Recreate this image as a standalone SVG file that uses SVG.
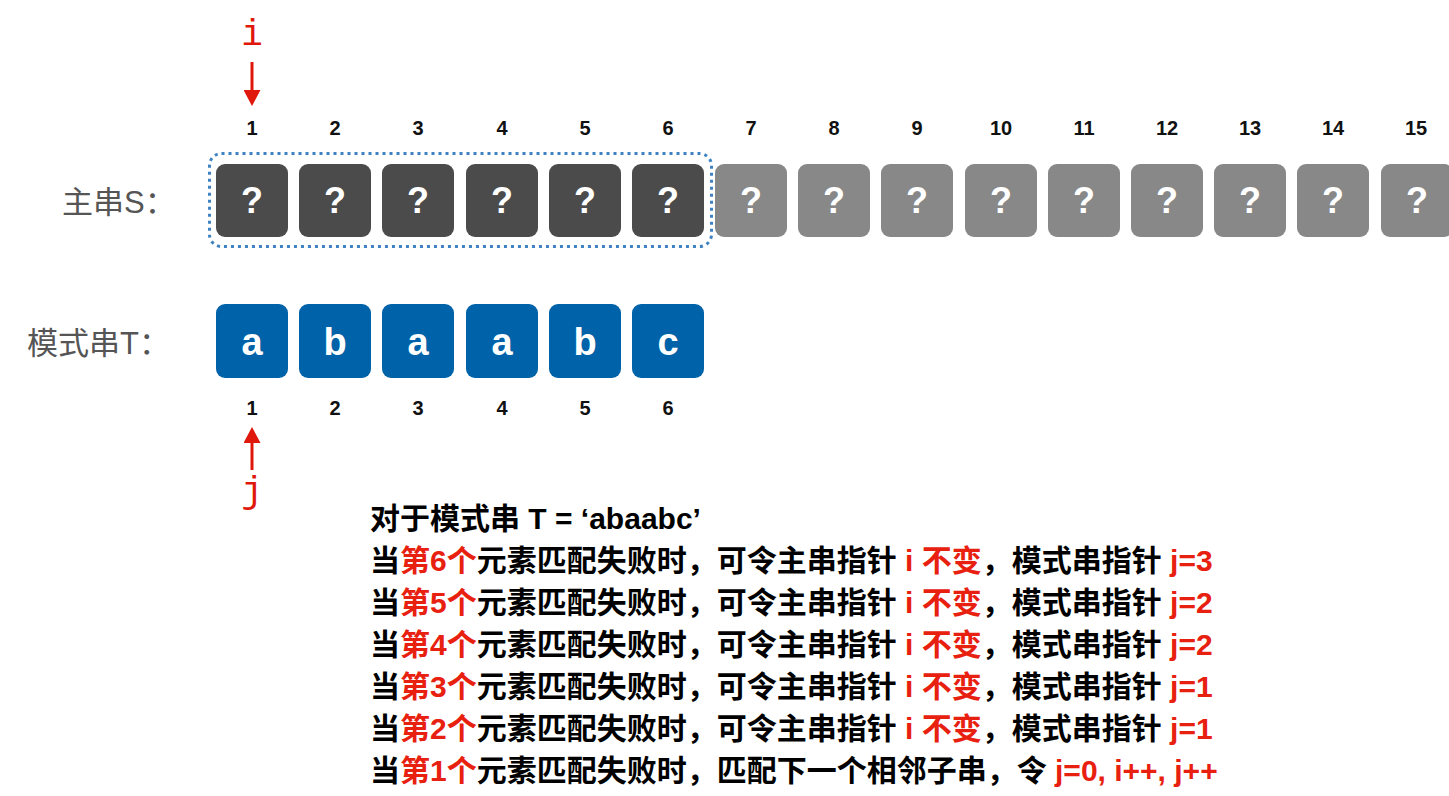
<svg xmlns="http://www.w3.org/2000/svg" width="1449" height="796" viewBox="0 0 1449 796">
<style>
.num{font-family:"Liberation Sans","Noto Sans",sans-serif;font-weight:bold;font-size:20px;fill:#111;text-anchor:middle}
.dark{fill:#4b4b4b}
.light{fill:#888888}
.blue{fill:#0062a8}
.q{font-family:"Liberation Sans","Noto Sans",sans-serif;font-weight:bold;font-size:36px;fill:#fff;text-anchor:middle}
.ch{font-family:"Liberation Sans","Noto Sans",sans-serif;font-weight:bold;font-size:38px;fill:#fff;text-anchor:middle}
.lbl{font-family:"Liberation Sans","Noto Sans CJK SC",sans-serif;font-size:31px;fill:#555}
.ptr{font-family:"Liberation Mono","DejaVu Sans Mono",monospace;font-size:36px;fill:#e0180c;text-anchor:middle}
.txt{font-family:"Liberation Sans","Noto Sans CJK SC",sans-serif;font-weight:bold;font-size:30px;fill:#000}
.r{fill:#e8200f}
.arr{stroke:#e0180c;stroke-width:3;fill:none}
</style>
<defs>
<marker id="ah" markerWidth="16" markerHeight="17" refX="0" refY="8.5" orient="auto" markerUnits="userSpaceOnUse">
<path d="M0,0 L16,8.5 L0,17 z" fill="#e0180c"/>
</marker>
</defs>

<g id="label-S"><text class="lbl" x="62" y="213">主串S：</text></g>
<g id="label-T"><text class="lbl" x="27" y="354">模式串T：</text></g>

<g id="window"><rect x="209.5" y="153.5" width="502" height="93" rx="12" fill="none" stroke="#3f82c2" stroke-width="3" stroke-dasharray="3 4"/></g>

<g id="S-indices">
<text class="num" x="252" y="135">1</text>
<text class="num" x="335" y="135">2</text>
<text class="num" x="418" y="135">3</text>
<text class="num" x="502" y="135">4</text>
<text class="num" x="585" y="135">5</text>
<text class="num" x="668" y="135">6</text>
<text class="num" x="751" y="135">7</text>
<text class="num" x="834" y="135">8</text>
<text class="num" x="917" y="135">9</text>
<text class="num" x="1001" y="135">10</text>
<text class="num" x="1084" y="135">11</text>
<text class="num" x="1167" y="135">12</text>
<text class="num" x="1250" y="135">13</text>
<text class="num" x="1333" y="135">14</text>
<text class="num" x="1416" y="135">15</text>
</g>

<g id="S-cells">
<g id="s1"><rect class="dark" x="216" y="164" width="72" height="73" rx="9"/><text class="q" x="252" y="213">?</text></g>
<g id="s2"><rect class="dark" x="299" y="164" width="72" height="73" rx="9"/><text class="q" x="335" y="213">?</text></g>
<g id="s3"><rect class="dark" x="382" y="164" width="72" height="73" rx="9"/><text class="q" x="418" y="213">?</text></g>
<g id="s4"><rect class="dark" x="466" y="164" width="72" height="73" rx="9"/><text class="q" x="502" y="213">?</text></g>
<g id="s5"><rect class="dark" x="549" y="164" width="72" height="73" rx="9"/><text class="q" x="585" y="213">?</text></g>
<g id="s6"><rect class="dark" x="632" y="164" width="72" height="73" rx="9"/><text class="q" x="668" y="213">?</text></g>
<g id="s7"><rect class="light" x="715" y="164" width="72" height="73" rx="9"/><text class="q" x="751" y="213">?</text></g>
<g id="s8"><rect class="light" x="798" y="164" width="72" height="73" rx="9"/><text class="q" x="834" y="213">?</text></g>
<g id="s9"><rect class="light" x="881" y="164" width="72" height="73" rx="9"/><text class="q" x="917" y="213">?</text></g>
<g id="s10"><rect class="light" x="965" y="164" width="72" height="73" rx="9"/><text class="q" x="1001" y="213">?</text></g>
<g id="s11"><rect class="light" x="1048" y="164" width="72" height="73" rx="9"/><text class="q" x="1084" y="213">?</text></g>
<g id="s12"><rect class="light" x="1131" y="164" width="72" height="73" rx="9"/><text class="q" x="1167" y="213">?</text></g>
<g id="s13"><rect class="light" x="1214" y="164" width="72" height="73" rx="9"/><text class="q" x="1250" y="213">?</text></g>
<g id="s14"><rect class="light" x="1297" y="164" width="72" height="73" rx="9"/><text class="q" x="1333" y="213">?</text></g>
<g id="s15"><rect class="light" x="1381" y="164" width="72" height="73" rx="9"/><text class="q" x="1417" y="213">?</text></g>
</g>

<g id="T-cells">
<g id="t1"><rect class="blue" x="216" y="304" width="72" height="74" rx="9"/><text class="ch" x="252" y="355">a</text></g>
<g id="t2"><rect class="blue" x="299" y="304" width="72" height="74" rx="9"/><text class="ch" x="335" y="355">b</text></g>
<g id="t3"><rect class="blue" x="382" y="304" width="72" height="74" rx="9"/><text class="ch" x="418" y="355">a</text></g>
<g id="t4"><rect class="blue" x="466" y="304" width="72" height="74" rx="9"/><text class="ch" x="502" y="355">a</text></g>
<g id="t5"><rect class="blue" x="549" y="304" width="72" height="74" rx="9"/><text class="ch" x="585" y="355">b</text></g>
<g id="t6"><rect class="blue" x="632" y="304" width="72" height="74" rx="9"/><text class="ch" x="668" y="355">c</text></g>
</g>

<g id="T-indices">
<text class="num" x="252" y="415">1</text>
<text class="num" x="335" y="415">2</text>
<text class="num" x="418" y="415">3</text>
<text class="num" x="502" y="415">4</text>
<text class="num" x="585" y="415">5</text>
<text class="num" x="668" y="415">6</text>
</g>

<g id="pointer-i"><text class="ptr" x="252" y="45">i</text></g>
<g id="pointer-j"><text class="ptr" x="252" y="502">j</text></g>

<g id="connectors">
<line class="arr" x1="252" y1="62" x2="252" y2="90" marker-end="url(#ah)"/>
<line class="arr" x1="252" y1="470" x2="252" y2="443" marker-end="url(#ah)"/>
</g>

<g id="explanation">
<text class="txt" x="370" y="529">对于模式串 T = ‘abaabc’</text>
<text class="txt" x="370" y="571">当<tspan class="r">第6个</tspan>元素匹配失败时，可令主串指针 <tspan class="r">i 不变</tspan>，模式串指针 <tspan class="r">j=3</tspan></text>
<text class="txt" x="370" y="613">当<tspan class="r">第5个</tspan>元素匹配失败时，可令主串指针 <tspan class="r">i 不变</tspan>，模式串指针 <tspan class="r">j=2</tspan></text>
<text class="txt" x="370" y="655">当<tspan class="r">第4个</tspan>元素匹配失败时，可令主串指针 <tspan class="r">i 不变</tspan>，模式串指针 <tspan class="r">j=2</tspan></text>
<text class="txt" x="370" y="697">当<tspan class="r">第3个</tspan>元素匹配失败时，可令主串指针 <tspan class="r">i 不变</tspan>，模式串指针 <tspan class="r">j=1</tspan></text>
<text class="txt" x="370" y="739">当<tspan class="r">第2个</tspan>元素匹配失败时，可令主串指针 <tspan class="r">i 不变</tspan>，模式串指针 <tspan class="r">j=1</tspan></text>
<text class="txt" x="370" y="781">当<tspan class="r">第1个</tspan>元素匹配失败时，匹配下一个相邻子串，令 <tspan class="r">j=0, i++, j++</tspan></text>
</g>
</svg>
